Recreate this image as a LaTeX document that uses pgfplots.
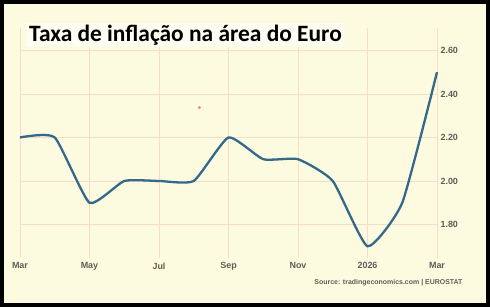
\documentclass[border=0pt]{standalone}
\usepackage{pgfplots}
\pgfplotsset{compat=1.18}
\usepackage{fontspec}
\setmainfont{Liberation Sans}
\newfontfamily\titlefont{Carlito}
\definecolor{cream}{HTML}{FDFBDF}
\definecolor{gridc}{HTML}{F6DCCB}
\definecolor{linec}{HTML}{33698A}
\definecolor{tickc}{HTML}{5E5E58}
\definecolor{dotc}{HTML}{F08A8A}
\begin{document}
\begin{tikzpicture}[x=1bp,y=1bp]
\fill[cream] (0,0) rectangle (490,307);
\draw[black, line width=4bp] (2,2) rectangle (488,305);
\begin{axis}[
  at={(20bp,49bp)}, anchor=south west,
  width=417bp, height=230bp, scale only axis,
  xmin=0, xmax=12, ymin=1.646, ymax=2.703,
  xtick={0,2,4,6,8,10,12},
  xticklabels={Mar,May,Jul,Sep,Nov,2026,Mar},
  ytick={1.8,2.0,2.2,2.4,2.6},
  yticklabel pos=right,
  /pgf/number format/.cd, fixed, fixed zerofill, precision=2, assume math mode=true,
  /pgfplots/.cd,
  axis line style={draw=none},
  tick style={draw=none},
  grid=major,
  major grid style={gridc, line width=0.7bp},
  ticklabel style={font=\fontsize{9}{10}\selectfont\bfseries, text=tickc},
  xticklabel style={yshift=-1bp},
  yticklabel style={xshift=0bp},
  clip=false,
]
\addplot[linec, line width=2.3bp, smooth, tension=0.3] coordinates {
(0,2.2) (1,2.2) (2,1.9) (3,2.0) (4,2.0) (5,2.0) (6,2.2) (7,2.1) (8,2.1) (9,2.0) (10,1.7) (11,1.9) (12,2.5)
};
\addplot[only marks, mark=*, mark size=1.3bp, dotc, draw=none] coordinates {(5.16,2.337)};
\end{axis}
\node[anchor=west, fill=white!55!cream, inner sep=2bp, font=\titlefont\bfseries\fontsize{23.5}{26}\selectfont] at (27,272) {Taxa de inflação na área do Euro};
\node[anchor=east, font=\fontsize{7}{8}\selectfont\bfseries, text=tickc] at (466,24) {Source: tradingeconomics.com | EUROSTAT};
\end{tikzpicture}
\end{document}
